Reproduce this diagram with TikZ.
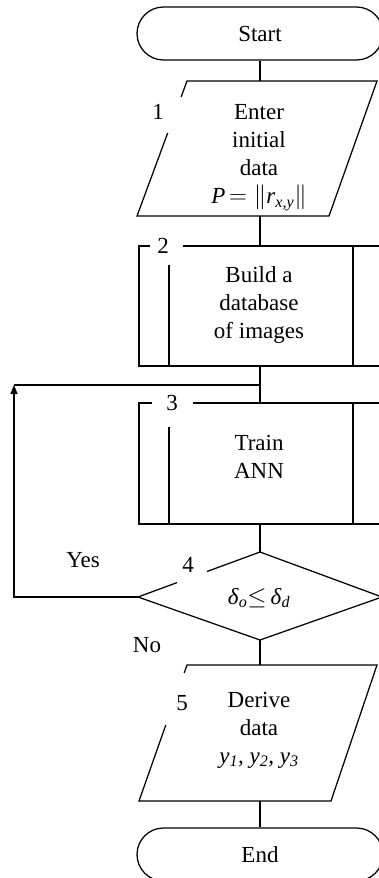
\documentclass[tikz,border=0pt]{standalone}
\usepackage{fontspec}
\setmainfont{Liberation Serif}
\usetikzlibrary{arrows.meta}
\newcommand{\mysub}[1]{\textsubscript{\textit{#1}}}
\tikzset{
  ln/.style={line width=1.25pt},
  txt/.style={align=center, font=\fontsize{23}{28}\selectfont, inner sep=0pt},
  num/.style={font=\fontsize{23}{28}\selectfont, inner sep=0pt},
  term/.style={draw, line width=1.25pt, rounded corners=26.5pt, minimum width=246pt,
    minimum height=53pt, inner sep=0pt, font=\fontsize{23}{28}\selectfont},
}
\begin{document}
\begin{tikzpicture}[x=1pt,y=-1pt]
\useasboundingbox (0,0) rectangle (379,878);

% Start
\node[term] (start) at (260,33.5) {Start};

% block 1: parallelogram
\coordinate (p1n) at (260,81);
\coordinate (p1s) at (260,216);
\draw[ln] (181.1,97) -- (187,81) -- (377,81) -- (329,216) -- (137,216) -- (167.7,133);
\node[num] (n1) at (158,112) {1};
\node[txt] (p1t) at (259,158) {Enter\\initial\\data\\\textit{P}\,$=\left\|\mbox{\textit{r}\mysub{x,y}}\right\|$};

% block 2: predefined process
\coordinate (b2n) at (260,246);
\coordinate (b2s) at (260,366);
\draw[ln] (150,246) -- (139,246) -- (139,366) -- (383,366) -- (383,246) -- (183,246);
\draw[ln] (169,265) -- (169,366);
\draw[ln] (353,246) -- (353,366);
\node[num] (n2) at (163,246) {2};
\node[txt] (b2t) at (259,305) {Build a\\database\\of images};

% block 3: predefined process
\coordinate (b3n) at (260,403);
\coordinate (b3s) at (260,524);
\draw[ln] (152,403) -- (139,403) -- (139,524) -- (383,524) -- (383,403) -- (193,403);
\draw[ln] (169,427) -- (169,524);
\draw[ln] (353,403) -- (353,524);
\node[num] (n3) at (172,403) {3};
\node[txt] (b3t) at (259,457) {Train\\ANN};

% block 4: decision
\coordinate (d4n) at (260,552);
\coordinate (d4s) at (260,640);
\coordinate (d4w) at (138,597);
\draw[ln] (207,571.5) -- (260,552) -- (382,597) -- (260,640) -- (138,597) -- (177,582.6);
\node[num] (n4) at (188,565) {4};
\node[txt] (d4t) at (259,598) {\textit{δ}\mysub{o}$\leq$\,\textit{δ}\mysub{d}};

% block 5: parallelogram
\coordinate (p5n) at (260,665);
\coordinate (p5s) at (260,801);
\draw[ln] (184.2,673) -- (187,665) -- (377,665) -- (331,801) -- (139,801) -- (165.8,725);
\node[num] (n5) at (182,703) {5};
\node[txt] (p5t) at (259,730) {Derive\\data\\\textit{y\textsubscript{1}, y\textsubscript{2}, y\textsubscript{3}}};

% End
\node[term] (end) at (260,854.5) {End};

% connectors
\draw[ln] (start.south) -- (p1n);
\draw[ln] (p1s) -- (b2n);
\draw[ln] (b2s) -- (b3n);
\draw[ln] (b3s) -- (d4n);
\draw[ln] (d4s) -- (p5n);
\draw[ln] (p5s) -- (end.north);

% loop
\coordinate (join) at (260,385);
\coordinate (lc1) at (14,597);
\coordinate (lc2) at (14,385);
\draw[ln, -{Triangle[length=9pt,width=7pt]}] (d4w) -- (lc1) -- (lc2);
\draw[ln] (lc2) -- (join);

\node[num] (yes) at (83,560) {Yes};
\node[num] (no) at (147,645) {No};
\end{tikzpicture}
\end{document}
